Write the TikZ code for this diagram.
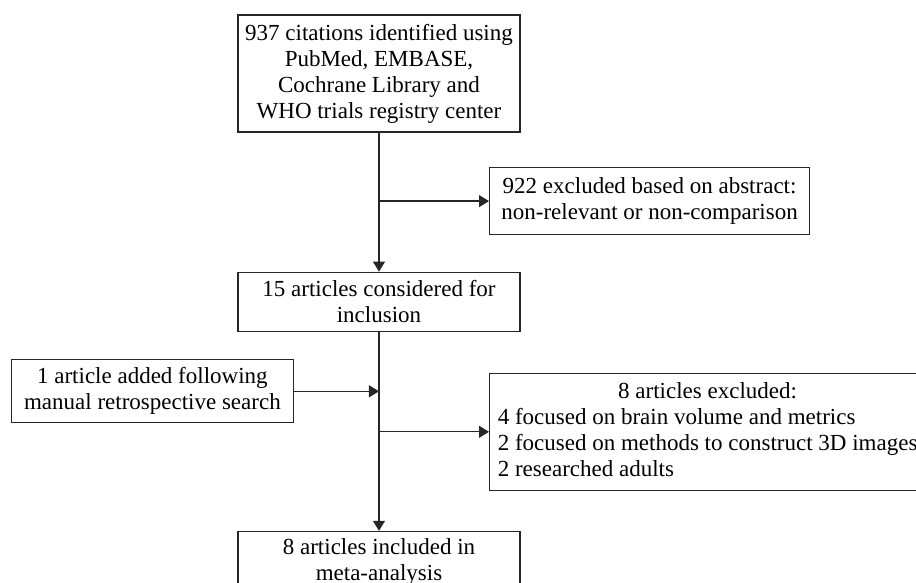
\documentclass[tikz,border=0pt]{standalone}
\usepackage{fontspec}
\setmainfont{Liberation Serif}
\usetikzlibrary{positioning,arrows.meta}
\begin{document}
\begin{tikzpicture}[
    box/.style={rectangle, draw=black!85, line width=0.6pt, minimum width=141pt, text centered, align=center, inner xsep=1.5pt, font=\fontsize{11.5}{13}\selectfont},
    mainbox/.style={box, minimum height=29.5pt},
    exclbox/.style={box, minimum height=33.5pt, minimum width=160pt},
    arrow/.style={draw=black!85, line width=0.6pt, -{Triangle[length=5pt, width=6pt]}}
]
    \useasboundingbox (-189.5pt,36.75pt) rectangle (268.5pt,-254.75pt);
    % Top: search
    \node[box, minimum height=58.5pt] (cit) at (0,0) {937 citations identified using\\PubMed, EMBASE,\\Cochrane Library and\\WHO trials registry center};
    \node[exclbox, xshift=55pt, yshift=-34.25pt, at=(cit.south), anchor=west] (excl1) {922 excluded based on abstract:\\non-relevant or non-comparison};
    % Middle: screening
    \node[mainbox, below=69.5pt, at=(cit.south), anchor=north] (consid) {15 articles considered for\\inclusion};
    \node[box, minimum height=31.5pt, xshift=-42.5pt, yshift=-29.75pt, at=(consid.south), anchor=east] (added) {1 article added following\\manual retrospective search};
    \node[box, minimum height=54pt, minimum width=218pt, xshift=55pt, yshift=-50pt, at=(consid.south), anchor=west] (excl2) {\begin{tabular}{@{}l@{}}\multicolumn{1}{@{}c@{}}{8 articles excluded:}\\4 focused on brain volume and metrics\\2 focused on methods to construct 3D images\\2 researched adults\end{tabular}};
    % Bottom: included
    \node[mainbox, below=99.5pt, at=(consid.south), anchor=north] (incl) {8 articles included in\\meta-analysis};

    % Arrows
    \coordinate (j1) at (cit.south |- excl1.west);
    \coordinate (j2) at (consid.south |- added.east);
    \coordinate (j3) at (consid.south |- excl2.west);
    \draw[arrow] (cit) -- (consid);
    \draw[arrow] (j1) -- (excl1);
    \draw[arrow] (added) -- (j2);
    \draw[arrow] (j3) -- (excl2);
    \draw[arrow] (consid) -- (incl);
\end{tikzpicture}
\end{document}
